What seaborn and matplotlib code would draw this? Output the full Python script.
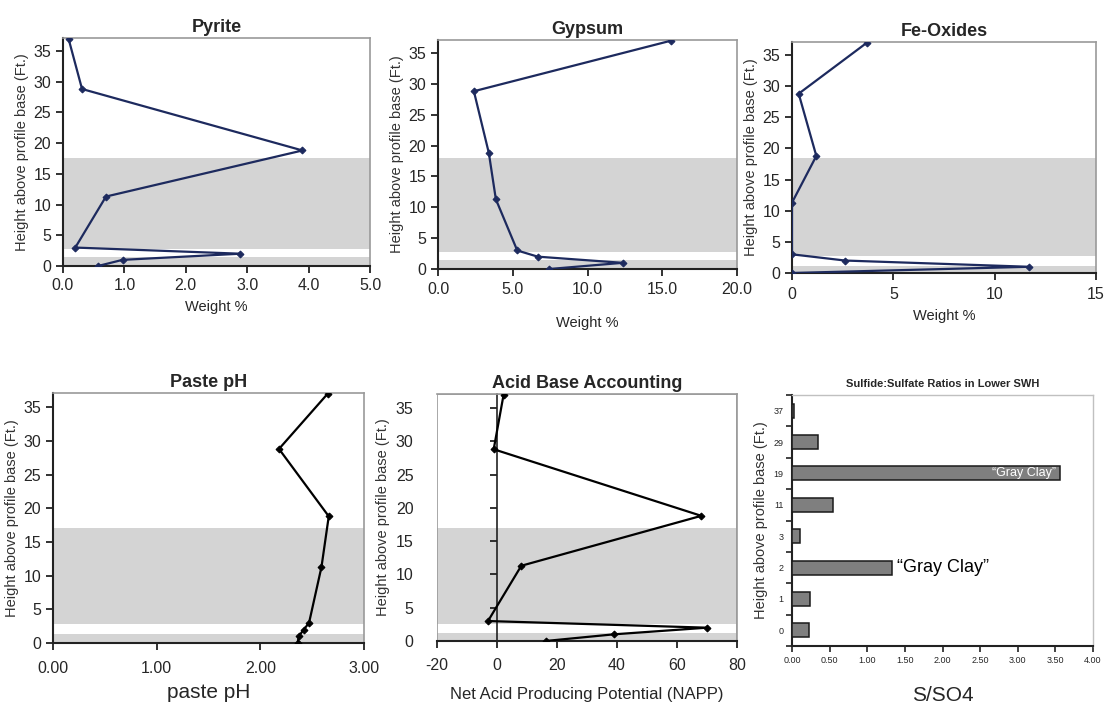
import numpy as np
import pandas as pd
import matplotlib
matplotlib.use("Agg")
import matplotlib.pyplot as plt
from matplotlib.patches import Rectangle
import seaborn as sns

sns.set_style("ticks")
plt.rcParams['font.family'] = ['Liberation Sans Narrow', 'Liberation Sans', 'DejaVu Sans']

# ---------------- data ----------------
heights = [37, 28.8, 18.8, 11.3, 3, 2, 1, 0]
pyrite = [0.09, 0.31, 3.90, 0.70, 0.20, 2.89, 0.97, 0.57]
gypsum = [15.6, 2.4, 3.4, 3.87, 5.3, 6.67, 12.35, 7.45]
fe_oxides = [3.7, 0.33, 1.2, 0.0, 0.0, 2.62, 11.7, 0.0]
paste_ph = [2.65, 2.18, 2.66, 2.59, 2.47, 2.42, 2.37, 2.36]
napp = [2.2, -1.1, 68.1, 8.1, -3.0, 70.0, 38.9, 16.2]

bar_labels = ["37", "29", "19", "11", "3", "2", "1", "0"]
ratios = [0.02, 0.35, 3.56, 0.55, 0.10, 1.33, 0.24, 0.23]

# gray clay band: (upper band bottom, upper band top, lower band top)
bands = {
    "Pyrite": (2.8, 17.6, 1.4),
    "Gypsum": (2.7, 18.0, 1.4),
    "Fe-Oxides": (2.7, 18.5, 1.2),
    "Paste pH": (2.8, 17.0, 1.4),
    "Acid Base Accounting": (2.6, 16.9, 1.2),
}

ylabel = "Height above profile base (Ft.)"
NAVY = "#1d2a5e"
BAND = "#d4d4d4"
FRAME = "#9a9a9a"

fig = plt.figure(figsize=(11.10, 7.08), dpi=100)

def px_axes(left, right, top, bottom):
    W, H = 1110, 708
    return fig.add_axes([left / W, 1 - bottom / H, (right - left) / W, (bottom - top) / H])

def style_line_ax(ax, title, xlim, xticks, xticklabels, xlabel, band,
                  tickpad, labelpad, xlabel_size=10.5, title_size=13):
    lo, hi, low_top = band
    ax.axhspan(lo, hi, color=BAND, zorder=0, lw=0)
    ax.axhspan(0, low_top, color=BAND, zorder=0, lw=0)
    ax.set_ylim(0, 37.1)
    ax.set_xlim(*xlim)
    ax.set_yticks(range(0, 36, 5))
    ax.set_xticks(xticks)
    ax.set_xticklabels(xticklabels)
    ax.tick_params(axis='both', labelsize=11.5, length=5, width=1.3, direction='out', color='#222222')
    ax.tick_params(axis='x', pad=tickpad)
    for s in ['top', 'right']:
        ax.spines[s].set_color(FRAME)
        ax.spines[s].set_linewidth(1.2)
    for s in ['left', 'bottom']:
        ax.spines[s].set_color('#222222')
        ax.spines[s].set_linewidth(1.5)
    ax.set_title(title, fontsize=title_size, fontweight='bold', pad=4, family=['Liberation Sans', 'DejaVu Sans'])
    ax.set_ylabel(ylabel, fontsize=10.5, color='#333333', labelpad=3)
    ax.set_xlabel(xlabel, fontsize=xlabel_size, labelpad=labelpad)

def draw_line(ax, values, color):
    df = pd.DataFrame({"value": values, "height": heights})
    sns.lineplot(data=df, x="value", y="height", sort=False, estimator=None,
                 color=color, lw=1.6, marker='D', markersize=3.5,
                 markeredgecolor=color, ax=ax, zorder=3)

# Pyrite
ax1 = px_axes(63, 370, 38, 266)
draw_line(ax1, pyrite, NAVY)
style_line_ax(ax1, "Pyrite", (0, 5), [0, 1, 2, 3, 4, 5],
              ["0.0", "1.0", "2.0", "3.0", "4.0", "5.0"], "Weight %", bands["Pyrite"],
              tickpad=4, labelpad=5)

# Gypsum
ax2 = px_axes(438, 737, 40, 269)
draw_line(ax2, gypsum, NAVY)
style_line_ax(ax2, "Gypsum", (0, 20), [0, 5, 10, 15, 20],
              ["0.0", "5.0", "10.0", "15.0", "20.0"], "Weight %", bands["Gypsum"],
              tickpad=4, labelpad=14)

# Fe-Oxides
ax3 = px_axes(792, 1096, 42, 273)
draw_line(ax3, fe_oxides, NAVY)
style_line_ax(ax3, "Fe-Oxides", (0, 15), [0, 5, 10, 15],
              ["0", "5", "10", "15"], "Weight %", bands["Fe-Oxides"],
              tickpad=5, labelpad=5)

# Paste pH
ax4 = px_axes(53, 364, 393, 643)
draw_line(ax4, paste_ph, "black")
style_line_ax(ax4, "Paste pH", (0, 3), [0, 1, 2, 3],
              ["0.00", "1.00", "2.00", "3.00"], "paste pH", bands["Paste pH"],
              tickpad=8, labelpad=5, xlabel_size=15)

# Acid Base Accounting
ax5 = px_axes(437, 737, 394, 641)
draw_line(ax5, napp, "black")
style_line_ax(ax5, "Acid Base Accounting", (-20, 80), [-20, 0, 20, 40, 60, 80],
              ["-20", "0", "20", "40", "60", "80"],
              "Net Acid Producing Potential (NAPP)", bands["Acid Base Accounting"],
              tickpad=7, labelpad=10, xlabel_size=12)
ax5.spines['left'].set_position(('data', 0))
ax5.spines['left'].set_linewidth(1.2)
ax5.tick_params(axis='y', pad=55)
ax5.add_patch(Rectangle((0, 0), 1, 1, transform=ax5.transAxes, fill=False,
                        edgecolor=FRAME, lw=1.2, zorder=0.5))
ax5.yaxis.set_label_coords(-0.155, 0.5)

# Sulfide:Sulfate bar chart
ax6 = px_axes(792, 1093, 395, 646)
bdf = pd.DataFrame({"ratio": ratios, "height": bar_labels})
sns.barplot(data=bdf, x="ratio", y="height", order=bar_labels, orient='h',
            color="#7f7f7f", edgecolor="#1a1a1a", linewidth=1.1, width=0.45,
            saturation=1, ax=ax6, zorder=3)
ax6.set_xlim(0, 4)
ax6.set_ylim(len(bar_labels) - 0.5, -0.5)
ax6.set_xticks(np.arange(0, 4.01, 0.5))
ax6.set_xticklabels([f"{v:.2f}" for v in np.arange(0, 4.01, 0.5)])
ax6.set_yticks(range(len(bar_labels)))
ax6.set_yticklabels(bar_labels)
ax6.set_yticks(np.arange(-0.5, len(bar_labels), 1.0), minor=True)
ax6.tick_params(axis='y', which='major', length=0, labelsize=6.5, pad=6)
ax6.tick_params(axis='y', which='minor', length=4, width=1.2, direction='out', color='#222222')
ax6.tick_params(axis='x', labelsize=6.5, length=4, width=1.2, direction='out', color='#222222', pad=3)
for s in ['top', 'right']:
    ax6.spines[s].set_color('#c0c0c0')
    ax6.spines[s].set_linewidth(1.0)
for s in ['left', 'bottom']:
    ax6.spines[s].set_color('#222222')
    ax6.spines[s].set_linewidth(1.5)
ax6.set_title("Sulfide:Sulfate Ratios in Lower SWH", fontsize=8, fontweight='bold', pad=6,
              family=['Liberation Sans', 'DejaVu Sans'])
ax6.set_ylabel(ylabel, fontsize=10.5, color='#333333', labelpad=4)
ax6.set_xlabel("S/SO4", fontsize=15, labelpad=15)
ax6.text(ratios[2] - 0.05, 2, "\u201cGray Clay\u201d", color='white', fontsize=9,
         ha='right', va='center', zorder=5)
ax6.text(ratios[5] + 0.06, 5, "\u201cGray Clay\u201d", color='black', fontsize=13,
         ha='left', va='center', zorder=5)

fig.savefig("out.png", dpi=100)
